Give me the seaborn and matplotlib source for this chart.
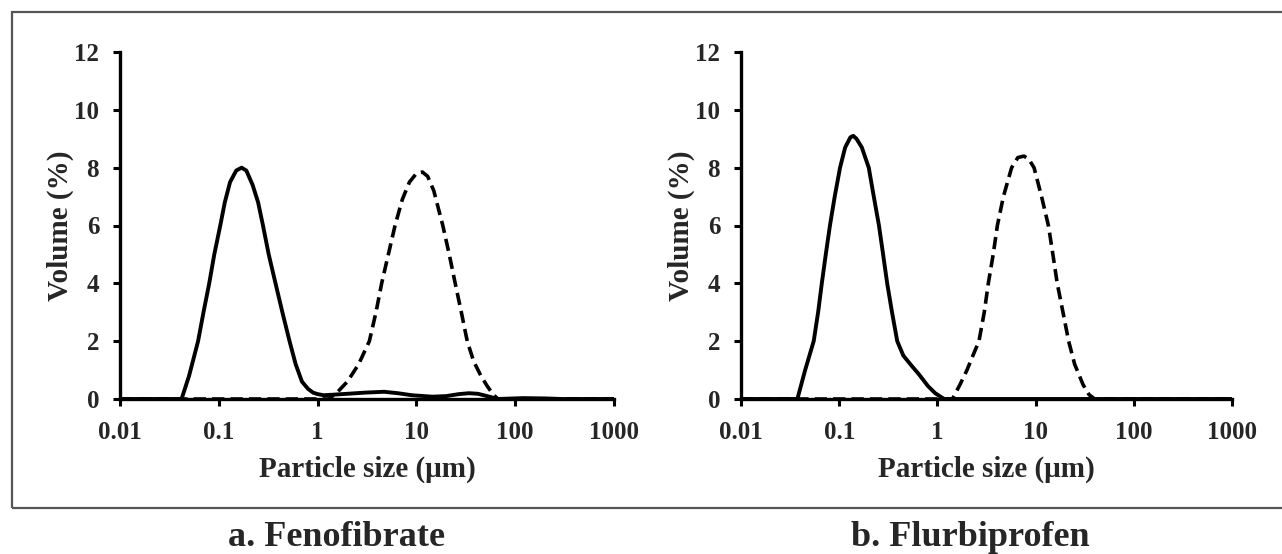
import numpy as np
import pandas as pd
import matplotlib
matplotlib.use("Agg")
import matplotlib.pyplot as plt
import seaborn as sns
from matplotlib.patches import Rectangle

# ---- data ----
feno_solid_size = [0.01, 0.042, 0.05, 0.0617, 0.07, 0.08, 0.09, 0.1035, 0.115, 0.13, 0.15, 0.17, 0.19, 0.22,
                   0.25, 0.28, 0.32, 0.375, 0.44, 0.52, 0.6, 0.695, 0.8, 0.9, 1.0, 1.15, 1.3, 2.0, 3.0,
                   4.7, 6.5, 9.0, 14.5, 20.0, 27.0, 34.0, 42.0, 52.0, 67.0, 80.0, 120.0, 200.0, 300.0, 1000.0]
feno_solid_vol = [0.0, 0.0, 0.8, 2.0, 3.0, 4.0, 5.0, 6.0, 6.8, 7.5, 7.9, 8.0, 7.9, 7.4,
                  6.8, 6.0, 5.0, 4.0, 3.0, 2.0, 1.2, 0.6, 0.35, 0.22, 0.17, 0.13, 0.14, 0.18, 0.22,
                  0.25, 0.2, 0.13, 0.08, 0.1, 0.17, 0.2, 0.18, 0.1, 0.0, 0.01, 0.03, 0.02, 0.0, 0.0]
feno_dash_size = [0.01, 1.3, 1.6, 2.0, 2.6, 3.34, 3.9, 4.45, 5.2, 6.08, 7.2, 8.5, 10.0, 11.5, 13.0, 15.0,
                  18.5, 21.5, 24.7, 28.5, 32.7, 38.0, 45.0, 52.0, 60.0, 67.0, 1000.0]
feno_dash_vol = [0.0, 0.0, 0.25, 0.6, 1.2, 2.0, 3.0, 4.0, 5.0, 6.0, 6.9, 7.5, 7.8, 7.85, 7.7, 7.2,
                 6.0, 5.0, 4.0, 3.0, 2.0, 1.3, 0.8, 0.45, 0.15, 0.0, 0.0]

flur_solid_size = [0.01, 0.0375, 0.045, 0.055, 0.061, 0.0665, 0.073, 0.0805, 0.09, 0.102, 0.115, 0.13,
                   0.139, 0.15, 0.17, 0.2, 0.225, 0.254, 0.28, 0.308, 0.345, 0.39, 0.45, 0.546, 0.65,
                   0.8, 0.95, 1.17, 1000.0]
flur_solid_vol = [0.0, 0.0, 1.0, 2.0, 3.0, 4.0, 5.0, 6.0, 7.0, 8.0, 8.7, 9.05,
                  9.1, 9.0, 8.7, 8.0, 7.0, 6.0, 5.0, 4.0, 3.0, 2.0, 1.5, 1.15, 0.85,
                  0.45, 0.2, 0.0, 0.0]
flur_dash_size = [0.01, 1.42, 1.7, 2.0, 2.3, 2.65, 3.0, 3.3, 3.7, 4.08, 4.7, 5.7, 6.6, 7.6, 8.5, 9.64,
                  11.5, 13.5, 15.0, 16.6, 19.0, 21.7, 25.0, 30.4, 35.0, 40.0, 1000.0]
flur_dash_vol = [0.0, 0.0, 0.5, 1.0, 1.5, 2.0, 3.0, 4.0, 5.0, 6.0, 7.0, 8.0, 8.35, 8.4, 8.3, 8.0,
                 7.0, 6.0, 5.0, 4.0, 3.0, 2.0, 1.2, 0.5, 0.15, 0.0, 0.0]

x_ticks = [0.01, 0.1, 1, 10, 100, 1000]
x_ticklabels = ["0.01", "0.1", "1", "10", "100", "1000"]
y_ticks = [0, 2, 4, 6, 8, 10, 12]
captions = ["a. Fenofibrate", "b. Flurbiprofen"]
xlabel = "Particle size (\u03bcm)"
ylabel = "Volume (%)"

sns.set_theme(style="white")
plt.rcParams["font.family"] = ["Liberation Serif", "DejaVu Serif"]
plt.rcParams["font.weight"] = "bold"

fig = plt.figure(figsize=(12.82, 5.54), dpi=100)

# outer frame (open on the right)
fig.add_artist(Rectangle((12 / 1282, 1 - 508 / 554), 1.1, (508 - 12) / 554,
                         transform=fig.transFigure, fill=False, edgecolor="#555555",
                         linewidth=1.6, clip_on=False))

axes_pos = [
    [120 / 1282, 1 - 399 / 554, (614 - 120) / 1282, (399 - 52) / 554],
    [741 / 1282, 1 - 399 / 554, (1232 - 741) / 1282, (399 - 52) / 554],
]
panels = [
    (feno_solid_size, feno_solid_vol, feno_dash_size, feno_dash_vol),
    (flur_solid_size, flur_solid_vol, flur_dash_size, flur_dash_vol),
]

for i, (pos, (ss, sv, ds, dv)) in enumerate(zip(axes_pos, panels)):
    ax = fig.add_axes(pos)
    df_s = pd.DataFrame({"size": ss, "vol": sv})
    df_d = pd.DataFrame({"size": ds, "vol": dv})
    sns.lineplot(data=df_d, x="size", y="vol", ax=ax, color="black", linewidth=2.6,
                 linestyle=(0, (3.4, 1.7)), sort=True, dash_joinstyle="round", dash_capstyle="butt")
    sns.lineplot(data=df_s, x="size", y="vol", ax=ax, color="black", linewidth=2.8, sort=True,
                 solid_joinstyle="round")
    ax.set_xscale("log")
    ax.set_xlim(0.01, 1000)
    ax.set_ylim(0, 12)
    ax.set_xticks(x_ticks)
    ax.set_xticklabels(x_ticklabels)
    ax.minorticks_off()
    ax.set_yticks(y_ticks)
    ax.set_yticklabels([str(v) for v in y_ticks])
    for sp in ["top", "right"]:
        ax.spines[sp].set_visible(False)
    for sp in ["left", "bottom"]:
        ax.spines[sp].set_visible(True)
        ax.spines[sp].set_color("black")
        ax.spines[sp].set_linewidth(2.4)
    ax.tick_params(axis="both", which="major", direction="out", length=5, width=2.2,
                   color="black", labelsize=18, pad=10)
    ax.tick_params(axis="x", pad=11)
    ax.tick_params(axis="both", bottom=True, left=True)
    for lab in ax.get_xticklabels() + ax.get_yticklabels():
        lab.set_fontweight("bold")
    ax.set_xlabel(xlabel, fontsize=21, fontweight="bold", labelpad=8)
    ax.set_ylabel(ylabel, fontsize=21, fontweight="bold", labelpad=0)
    ax.grid(False)
    ax.set_facecolor("none")

fig.text(336 / 1282, 1 - 538 / 554, captions[0], ha="center", va="center", fontsize=26, fontweight="bold")
fig.text(970 / 1282, 1 - 538 / 554, captions[1], ha="center", va="center", fontsize=26, fontweight="bold")

fig.savefig("out.png", dpi=100)
